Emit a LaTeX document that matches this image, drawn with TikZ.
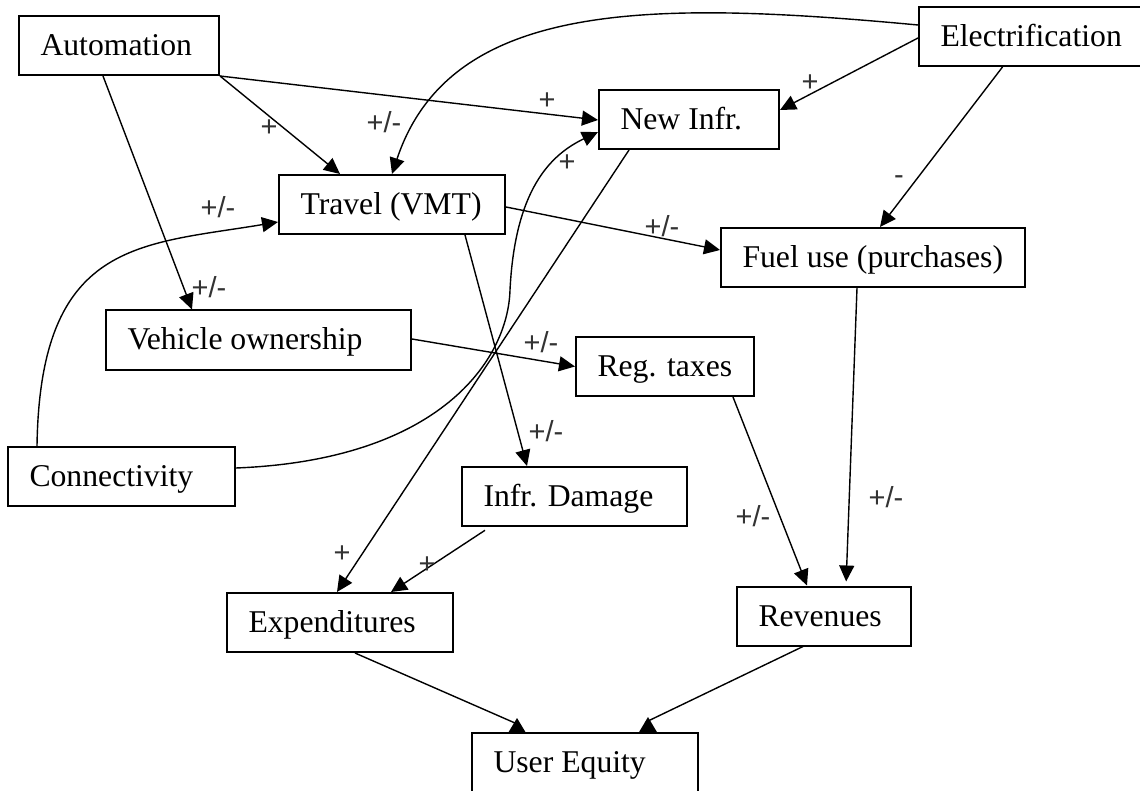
\documentclass[tikz,border=0pt]{standalone}
\usepackage{fontspec}
\setmainfont{Liberation Serif}
\newfontfamily\signfont{Liberation Sans}
\usetikzlibrary{arrows.meta}

\begin{document}
\begin{tikzpicture}[x=1pt,y=-1pt,
  factor/.style={draw, line width=2pt, minimum height=59pt, inner xsep=21.5pt,
    inner ysep=0pt, text height=22pt, text depth=2pt,
    font=\fontsize{31.7}{36}\selectfont},
  link/.style={line width=1.4pt, -{Triangle[length=16pt,width=15pt]}},
  plainlink/.style={line width=1.4pt},
  sign/.style={font=\signfont\fontsize{29}{32}\selectfont, text=black!80,
    inner sep=0pt, text height=20.9pt, text depth=0pt}
]
\useasboundingbox (0,0) rectangle (1140,791);
\fill[white] (0,0) rectangle (1140,791);
\clip (0,0) rectangle (1140,791);

% factors (text set flush left inside each box)
\node[factor] (auto)    at (119,45.5)    {\makebox[157pt][l]{Automation}};
\node[factor] (elec)    at (1030.5,36.5) {\makebox[180pt][l]{Electrification}};
\node[factor] (newinfr) at (689,119.5)   {\makebox[137pt][l]{New Infr.}};
\node[factor] (travel)  at (392,204.5)   {\makebox[183pt][l]{Travel (VMT)}};
\node[factor] (fuel)    at (873,257.5)   {\makebox[261pt][l]{Fuel use (purchases)}};
\node[factor] (vehicle) at (258.5,340)   {\makebox[262pt][l]{Vehicle ownership}};
\node[factor] (reg)     at (665,366.5)   {\makebox[135pt][l]{Reg. taxes}};
\node[factor] (conn)    at (121.5,476.5) {\makebox[184pt][l]{Connectivity}};
\node[factor] (damage)  at (574.5,496.5) {\makebox[182pt][l]{Infr. Damage}};
\node[factor] (exp)     at (340,622.5)   {\makebox[183pt][l]{Expenditures}};
\node[factor] (rev)     at (824,616)     {\makebox[131pt][l]{Revenues}};
\node[factor] (ue)      at (585,762.5)   {\makebox[183pt][l]{User Equity}};

% straight links
\draw[link] (auto.south east) -- ([xshift=-52pt]travel.north);
\draw[link] (auto.south east) -- ([yshift=-0.5pt]newinfr.west);
\draw[link] ([xshift=-16pt]auto.south) -- ([xshift=-66.5pt]vehicle.north);
\draw[link] ([yshift=-1.5pt]elec.west) -- ([yshift=9.5pt]newinfr.east);
\draw[link] ([xshift=-28pt]elec.south) -- ([xshift=7pt]fuel.north);
\draw[link] ([yshift=-2.5pt]travel.east) -- ([yshift=7.5pt]fuel.west);
\draw[link] ([xshift=73pt]travel.south) -- ([xshift=-47.5pt]damage.north);
\draw[link] ([yshift=1pt]vehicle.east) -- (reg.west);
\draw[link] ([xshift=-60pt]newinfr.south) -- ([xshift=-3pt]exp.north);
\draw[link, shorten <=6pt] ([xshift=-84.5pt]damage.south) -- ([xshift=51pt]exp.north);
\draw[link] ([xshift=68pt]reg.south) -- ([xshift=-17pt]rev.north);
\draw[link, shorten >=4pt] ([xshift=-16pt]fuel.south) -- ([xshift=22pt]rev.north);

% curved links
\draw[link] ([yshift=11.5pt]elec.west) .. controls (650,0) and (450,0) .. (travel.north);
\draw[link] ([xshift=-84.5pt]conn.north) .. controls (40,240) and (140,245) .. ([yshift=-17.5pt]travel.west);
\draw[link] ([yshift=8.5pt]conn.east) .. controls (440,460) and (508,360) .. (510,290)
  .. controls (515,190) and (550,155) .. ([yshift=-12.5pt]newinfr.west);

% links into User Equity, with upright heads resting on the box
\coordinate (ueL) at (517,718);
\coordinate (ueR) at (648,717);
\fill (ueL) -- ++(-9,15) -- ++(18,0) -- cycle;
\fill (ueR) -- ++(-9.5,16) -- ++(19,0) -- cycle;
\draw[plainlink] ([xshift=15pt]exp.south) -- ([xshift=-2pt,yshift=-5pt]ueL);
\draw[plainlink] ([xshift=-21pt]rev.south) -- ([xshift=-2pt,yshift=-5pt]ueR);

% polarity signs
\node[sign] at (269,126) {+};
\node[sign] at (547,99)  {+};
\node[sign] at (209,287) {+/-};
\node[sign] at (384,122) {+/-};
\node[sign] at (218,207) {+/-};
\node[sign] at (810,81)  {+};
\node[sign] at (567,161) {+};
\node[sign] at (662,226) {+/-};
\node[sign] at (899,174.5) {-};
\node[sign] at (546,431) {+/-};
\node[sign] at (541,342) {+/-};
\node[sign] at (753,516) {+/-};
\node[sign] at (886,497) {+/-};
\node[sign] at (342,552) {+};
\node[sign] at (427,563) {+};
\end{tikzpicture}
\end{document}
